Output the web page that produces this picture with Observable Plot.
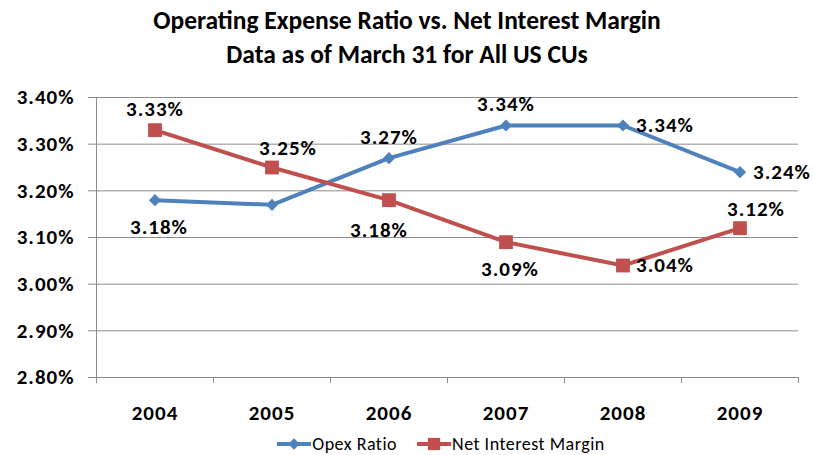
<!DOCTYPE html>
<html><head><meta charset="utf-8">
<script src="https://cdn.jsdelivr.net/npm/d3@7"></script>
<script src="https://cdn.jsdelivr.net/npm/@observablehq/plot@0.6"></script>
<style>
body{margin:0;background:#fff;font-family:Carlito,Lato,sans-serif;color:#000;}
#title{width:814px;text-align:center;font-weight:bold;font-size:25.5px;line-height:34px;padding-top:4px;height:69px;box-sizing:border-box;}
#legend{width:814px;height:22px;display:flex;justify-content:center;align-items:center;font-size:18px;letter-spacing:0.5px;padding-left:68px;box-sizing:border-box;}
.item{display:flex;align-items:center;margin:0 10px;}
.item svg{margin-right:1px;}
#chart svg{overflow:visible;display:block;}
#chart svg text{letter-spacing:1px;}
</style></head><body>
<div id="title">Operating Expense Ratio vs. Net Interest Margin<br>Data as of March 31 for All US CUs</div>
<div id="chart"></div>
<div id="legend"></div>
<script>
const years = [2004, 2005, 2006, 2007, 2008, 2009];
const opex = [3.18, 3.17, 3.27, 3.34, 3.34, 3.24];
const nim = [3.33, 3.25, 3.18, 3.09, 3.04, 3.12];
const opexLabelPlace = ["below", null, "above", "above", "right", "right"];
const nimLabelPlace = ["above", "aboveRight", "belowLeft", "below", "right", "aboveRight"];
const yTicks = [2.8, 2.9, 3.0, 3.1, 3.2, 3.3, 3.4];
const seriesNames = ["Opex Ratio", "Net Interest Margin"];
const colors = ["#4F81BD", "#C0504D"];
const symbols = ["diamond2", "square"];

const rows = [];
years.forEach((y, i) => {
  rows.push({year: y, value: opex[i], series: seriesNames[0], place: opexLabelPlace[i]});
  rows.push({year: y, value: nim[i], series: seriesNames[1], place: nimLabelPlace[i]});
});
const boundaries = [years[0] - 0.5, ...years.map(y => y + 0.5)];
const fmt = v => v.toFixed(2) + "%";
const grid = "#8c8c8c";
const font = "Carlito, Lato, sans-serif";
const labelText = (place, opts) => Plot.text(rows.filter(d => d.place === place), {
  x: "year", y: "value", text: d => fmt(d.value), fontSize: 21, fontWeight: "bold",
  fill: "#000", fontFamily: font, ...opts
});

const chart = Plot.plot({
  width: 814, height: 364,
  marginLeft: 96, marginRight: 16, marginTop: 28, marginBottom: 56,
  style: {fontFamily: font, background: "#fff"},
  x: {type: "linear", domain: [years[0] - 0.5, years[years.length - 1] + 0.5]},
  y: {domain: [yTicks[0], yTicks[yTicks.length - 1]]},
  color: {domain: seriesNames, range: colors},
  marks: [
    Plot.ruleY(yTicks, {stroke: grid, strokeWidth: 1}),
    Plot.axisY(yTicks, {tickSize: 8, tickPadding: 14, stroke: grid, strokeOpacity: 1, tickFormat: fmt, fontSize: 21, fontWeight: "bold", fill: "#000", label: null}),
    Plot.ruleX([boundaries[0]], {stroke: grid}),
    Plot.axisX(boundaries, {tickSize: 6, stroke: grid, strokeOpacity: 1, tickFormat: () => "", label: null}),
    Plot.axisX(years, {tickSize: 0, tickPadding: 28, tickFormat: d => String(d), fontSize: 21, fontWeight: "bold", fill: "#000", label: null}),
    Plot.line(rows, {x: "year", y: "value", z: "series", stroke: "series", strokeWidth: 4}),
    Plot.dot(rows.filter(d => d.series === seriesNames[0]), {x: "year", y: "value", fill: colors[0], symbol: symbols[0], r: 5.5}),
    Plot.dot(rows.filter(d => d.series === seriesNames[1]), {x: "year", y: "value", fill: colors[1], symbol: symbols[1], r: 7.8}),
    labelText("above", {dy: -21}),
    labelText("aboveRight", {dy: -19, dx: 16}),
    labelText("below", {dy: 27, dx: 4}),
    labelText("belowLeft", {dy: 30, dx: -10}),
    labelText("right", {dx: 13, textAnchor: "start"})
  ]
});
document.getElementById("chart").appendChild(chart);

const legend = document.getElementById("legend");
seriesNames.forEach((name, i) => {
  const item = document.createElement("div");
  item.className = "item";
  const s = d3.create("svg").attr("width", 34).attr("height", 16);
  s.append("line").attr("x1", 0).attr("x2", 34).attr("y1", 8).attr("y2", 8).attr("stroke", colors[i]).attr("stroke-width", 4);
  s.append("path").attr("transform", "translate(17,8)").attr("fill", colors[i])
    .attr("d", d3.symbol(i === 0 ? d3.symbolDiamond2 : d3.symbolSquare, i === 0 ? 85 : 150)());
  item.appendChild(s.node());
  const t = document.createElement("span");
  t.textContent = name;
  item.appendChild(t);
  legend.appendChild(item);
});
</script>
</body></html>
